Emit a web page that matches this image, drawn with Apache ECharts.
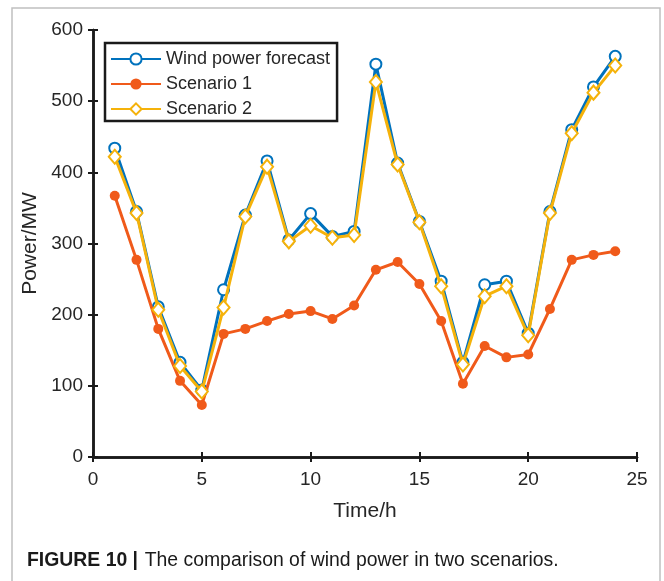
<!DOCTYPE html>
<html>
<head>
<meta charset="utf-8">
<script src="https://cdn.jsdelivr.net/npm/echarts@6/dist/echarts.min.js"></script>
<style>
html,body{margin:0;padding:0;background:#fff;}
#c{width:664px;height:581px;}
</style>
</head>
<body>
<div id="c"></div>
<script>
var hours = [1,2,3,4,5,6,7,8,9,10,11,12,13,14,15,16,17,18,19,20,21,22,23,24];
var forecast  = [434,345,211,133,94,235,340,416,305,342,310,317,552,413,331,247,133,242,247,174,345,460,520,563];
var scenario1 = [367,277,180,107,73,173,180,191,201,205,194,213,263,274,243,191,103,156,140,144,208,277,284,289];
var scenario2 = [422,343,207,128,92,210,338,408,303,325,308,312,527,411,330,240,130,226,240,171,343,455,512,550];
var xTicks = [0,5,10,15,20,25];
var yTicks = [0,100,200,300,400,500,600];

function pairs(v){ return hours.map(function(h,i){ return [h, v[i]]; }); }

var font = '"Liberation Sans", Arial, Helvetica, sans-serif';
var chart = echarts.init(document.getElementById('c'), null, {renderer:'canvas'});

var axisCommon = {
  type:'value',
  axisLine:{show:true, lineStyle:{color:'#1a1a1a', width:2.5}},
  axisTick:{show:true, inside:true, length:5, lineStyle:{color:'#1a1a1a', width:2}},
  splitLine:{show:false}
};

chart.setOption({
  animation:false,
  backgroundColor:'#fff',
  grid:{left:93, right:27, top:30, bottom:124, containLabel:false},
  legend:{
    orient:'vertical', left:105, top:43,
    itemWidth:50, itemHeight:14, itemGap:7,
    padding:[7,7,3,5],
    borderColor:'#1a1a1a', borderWidth:2.5, backgroundColor:'#fff',
    textStyle:{fontFamily:font, fontSize:18, color:'#262626'},
    data:['Wind power forecast','Scenario 1','Scenario 2']
  },
  xAxis:[
    Object.assign({}, axisCommon, {
      min:xTicks[0], max:xTicks[xTicks.length-1], interval:5,
      position:'bottom',
      name:'Time/h', nameLocation:'middle', nameGap:44,
      nameTextStyle:{fontFamily:font, fontSize:21, color:'#262626'},
      axisLabel:{fontFamily:font, fontSize:19, color:'#262626', margin:13}
    }),
    Object.assign({}, axisCommon, {
      min:xTicks[0], max:xTicks[xTicks.length-1], interval:5,
      position:'top', axisLabel:{show:false}
    })
  ],
  yAxis:[
    Object.assign({}, axisCommon, {
      min:yTicks[0], max:yTicks[yTicks.length-1], interval:100,
      position:'left',
      name:'Power/MW', nameLocation:'middle', nameGap:50,
      nameTextStyle:{fontFamily:font, fontSize:21, color:'#262626'},
      axisLabel:{fontFamily:font, fontSize:19, color:'#262626', margin:10}
    }),
    Object.assign({}, axisCommon, {
      min:yTicks[0], max:yTicks[yTicks.length-1], interval:100,
      position:'right', axisLabel:{show:false}
    })
  ],
  series:[
    {
      name:'Wind power forecast', type:'line', data:pairs(forecast),
      xAxisIndex:0, yAxisIndex:0,
      symbol:'emptyCircle', symbolSize:11,
      lineStyle:{color:'#0072BD', width:3},
      itemStyle:{color:'#0072BD', borderColor:'#0072BD', borderWidth:2.8},
      z:2
    },
    {
      name:'Scenario 1', type:'line', data:pairs(scenario1),
      xAxisIndex:0, yAxisIndex:0,
      symbol:'circle', symbolSize:10,
      lineStyle:{color:'#F05A1A', width:3},
      itemStyle:{color:'#F05A1A'},
      z:3
    },
    {
      name:'Scenario 2', type:'line', data:pairs(scenario2),
      xAxisIndex:0, yAxisIndex:0,
      symbol:'emptyDiamond', symbolSize:[12,14],
      lineStyle:{color:'#F5B20A', width:3},
      itemStyle:{color:'#F5B20A', borderColor:'#F5B20A', borderWidth:2.8},
      z:4
    }
  ],
  graphic:[
    {type:'rect', shape:{x:12, y:8, width:648, height:590}, style:{fill:'none', stroke:'#c0c0c0', lineWidth:1.5}, silent:true, z:0},
    {type:'text', left:27, top:551, style:{
      text:'{b|FIGURE 10 |}  {r|The comparison of wind power in two scenarios.}',
      rich:{
        b:{fontFamily:font, fontSize:19.4, fontWeight:'bold', fill:'#1a1a1a'},
        r:{fontFamily:font, fontSize:19.4, fill:'#1a1a1a'}
      }
    }}
  ]
});
</script>
</body>
</html>
